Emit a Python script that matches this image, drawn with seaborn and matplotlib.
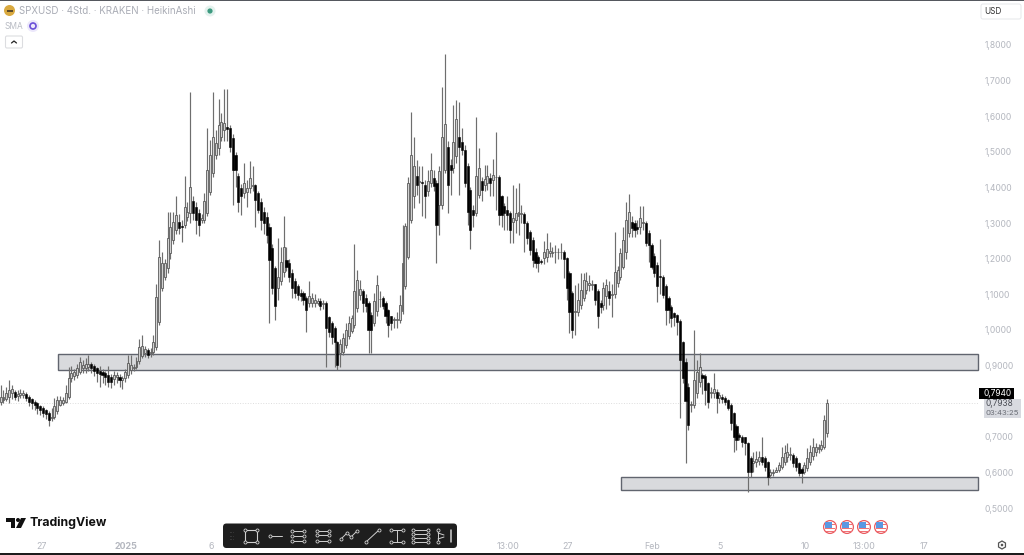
import matplotlib
matplotlib.use("Agg")
import matplotlib.pyplot as plt
from matplotlib.patches import Circle, FancyBboxPatch, Polygon, Rectangle, RegularPolygon
import numpy as np
import seaborn as sns

# ---- candles (left to right) ----
opens = [
    .780, .799, .802, .805, .813, .822, .827, .815, .818, .818, .820, .813, .805, .799, .794, .785, .780, .774, .768, .752,
    .755, .771, .789, .794, .799, .811, .864, .871, .874, .883, .892, .892, .897, .905, .899, .892, .886, .883, .878, .874,
    .867, .862, .867, .869, .858, .864, .874, .888, .892, .895, .914, .927, .936, .944, .935, .939,
    .953, 1.023, 1.117, 1.150, 1.173, 1.215, 1.253, 1.281, 1.304, 1.293,
    1.295, 1.318, 1.328, 1.363, 1.346, 1.328, 1.309, 1.309, 1.328, 1.388,
    1.440, 1.491, 1.510, 1.543, 1.562, 1.571, 1.566, 1.538, 1.491, 1.431,
    1.398, 1.384, 1.388, 1.398, 1.405, 1.407, 1.384, 1.360, 1.332, 1.318,
    1.290, 1.229, 1.173, 1.117, 1.136, 1.164, 1.197, 1.187, 1.159, 1.136,
    1.122, 1.103, 1.103, 1.089, 1.075, 1.075, 1.075, 1.075, 1.080, 1.074,
    1.075, 1.037, 1.019, 1.005, .967,
    .936, .939, .958, .982, .996, 1.014, 1.061, 1.098, 1.108, 1.089,
    1.075, 1.042, 1.019, 1.052, 1.086, 1.089, 1.075, 1.056, 1.038, 1.029,
    1.029, 1.028, 1.052, 1.122, 1.206, 1.309, 1.375, 1.431, 1.416, 1.416,
    1.407, 1.389, 1.412, 1.426, 1.412, 1.351, 1.351, 1.450, 1.515, 1.464,
    1.454, 1.489, 1.541, 1.529, 1.506, 1.459, 1.393, 1.337, 1.328, 1.379,
    1.417, 1.407, 1.412, 1.426, 1.421, 1.428, 1.429, 1.375, 1.348, 1.337,
    1.328, 1.304, 1.309, 1.319, 1.325, 1.326, 1.300, 1.276, 1.253, 1.220,
    1.204, 1.194, 1.201, 1.206,
    1.217, 1.217, 1.218, 1.218, 1.219, 1.218, 1.201, 1.159, 1.105, 1.051,
    1.051, 1.07, 1.089, 1.112, 1.126, 1.127, 1.128, 1.108, 1.075, 1.07,
    1.094, 1.108, 1.099, 1.101, 1.131, 1.15, 1.178, 1.22, 1.271, 1.304,
    1.299, 1.29, 1.288, 1.30, 1.301, 1.271, 1.239, 1.208, 1.182, 1.152,
    1.15, 1.123, 1.089, 1.063, 1.047, 1.042, 1.026, .967,
    .911, .841, .789, .789, .822, .855, .874, .871, .85, .822,
    .822, .827, .808, .813, .81, .803, .789, .766, .73, .705,
    .70, .70, .682, .64, .626, .63, .633, .644, .64, .63,
    .593, .597, .602, .607, .616, .63, .644, .65, .65, .64,
    .626, .609, .60, .612, .63, .646, .658, .665, .665, .672,
    .71,
]
closes = [
    .799, .813, .813, .822, .832, .833, .813, .820, .822, .824, .808, .799, .794, .790, .780, .774, .768, .764, .747, .755,
    .785, .804, .804, .804, .822, .864, .878, .883, .892, .911, .902, .905, .905, .892, .886, .878, .877, .874, .869, .855,
    .855, .874, .874, .858, .864, .883, .908, .902, .897, .914, .953, .955, .946, .930, .939, .967,
    1.093, 1.206, 1.187, 1.187, 1.257, 1.290, 1.304, 1.323, 1.285, 1.290,
    1.346, 1.332, 1.402, 1.328, 1.309, 1.295, 1.313, 1.363, 1.449, 1.491,
    1.543, 1.524, 1.576, 1.585, 1.580, 1.563, 1.515, 1.449, 1.449, 1.360,
    1.376, 1.412, 1.398, 1.426, 1.407, 1.365, 1.337, 1.309, 1.300, 1.267,
    1.197, 1.117, 1.066, 1.150, 1.192, 1.234, 1.178, 1.150, 1.117, 1.103,
    1.098, 1.094, 1.084, 1.056, 1.094, 1.089, 1.084, 1.080, 1.066, 1.075,
    1.005, .995, .981, .967, .902,
    .960, .977, 1.0, 1.019, 1.033, 1.108, 1.141, 1.114, 1.075, 1.066,
    1.0, 1.0, 1.08, 1.127, 1.088, 1.066, 1.038, 1.014, 1.019, 1.031,
    1.032, 1.070, 1.189, 1.291, 1.412, 1.492, 1.459, 1.407, 1.418, 1.412,
    1.375, 1.417, 1.450, 1.403, 1.295, 1.445, 1.543, 1.579, 1.407, 1.450,
    1.529, 1.592, 1.515, 1.506, 1.412, 1.332, 1.281, 1.323, 1.431, 1.454,
    1.393, 1.423, 1.431, 1.412, 1.435, 1.430, 1.323, 1.323, 1.328, 1.323,
    1.281, 1.314, 1.328, 1.330, 1.327, 1.300, 1.258, 1.225, 1.197, 1.187,
    1.187, 1.192, 1.220, 1.227,
    1.221, 1.220, 1.220, 1.220, 1.220, 1.198, 1.117, 1.051, 1.0, 1.054,
    1.084, 1.112, 1.14, 1.136, 1.133, 1.129, 1.084, 1.039, 1.065, 1.117,
    1.126, 1.089, 1.101, 1.164, 1.168, 1.215, 1.253, 1.309, 1.332, 1.285,
    1.281, 1.283, 1.313, 1.302, 1.243, 1.239, 1.178, 1.159, 1.122, 1.148,
    1.098, 1.056, 1.056, 1.033, 1.037, 1.023, .915, .864,
    .80, .733, .791, .86, .883, .895, .864, .832, .799, .827,
    .833, .808, .817, .805, .799, .78, .738, .70, .691, .70,
    .686, .682, .602, .602, .633, .637, .644, .63, .616, .588,
    .602, .602, .607, .621, .644, .654, .658, .652, .626, .616,
    .598, .598, .621, .64, .658, .672, .67, .67, .677, .747,
    .7938,
]
lows = [
    .765, .790, .795, .800, .795, .805, .802, .800, .810, .810, .800, .785, .778, .775, .765, .760, .755, .750, .730, .745,
    .750, .765, .785, .790, .795, .805, .855, .860, .865, .875, .880, .880, .885, .880, .870, .855, .840, .850, .845, .840,
    .838, .845, .850, .840, .835, .855, .865, .875, .885, .890, .905, .920, .925, .920, .925, .930,
    .945, 1.015, 1.11, 1.14, 1.16, 1.20, 1.24, 1.27, 1.27, 1.246,
    1.285, 1.305, 1.30, 1.31, 1.27, 1.265, 1.30, 1.30, 1.32, 1.38,
    1.43, 1.48, 1.49, 1.53, 1.53, 1.53, 1.50, 1.351, 1.40, 1.332,
    1.323, 1.37, 1.346, 1.385, 1.39, 1.29, 1.328, 1.281, 1.27, 1.243,
    1.019, 1.10, 1.028, 1.084, 1.125, 1.15, 1.165, 1.135, 1.09, 1.09,
    1.085, 1.08, 1.07, .995, 1.065, 1.065, 1.065, 1.07, 1.055, 1.06,
    .897, .98, .96, .897, .888,
    .895, .93, .95, .975, .99, 1.005, 1.05, 1.085, 1.05, 1.05,
    .935, .935, 1.01, 1.04, 1.065, 1.06, 1.02, .981, 1.0, 1.005,
    1.005, 1.02, 1.045, 1.115, 1.20, 1.30, 1.342, 1.38, 1.356, 1.319,
    1.314, 1.375, 1.40, 1.39, 1.187, 1.267, 1.34, 1.44, 1.328, 1.379,
    1.44, 1.47, 1.379, 1.49, 1.40, 1.295, 1.227, 1.29, 1.32, 1.37,
    1.361, 1.39, 1.393, 1.375, 1.375, 1.337, 1.295, 1.29, 1.281, 1.281,
    1.244, 1.244, 1.272, 1.267, 1.30, 1.22, 1.24, 1.21, 1.178, 1.173,
    1.164, 1.185, 1.185, 1.19,
    1.206, 1.205, 1.187, 1.20, 1.20, 1.145, 1.084, .99, .976, .986,
    1.04, 1.06, 1.08, 1.10, 1.11, 1.112, 1.07, 1.005, 1.047, 1.056,
    1.06, 1.07, 1.037, 1.09, 1.12, 1.14, 1.17, 1.20, 1.26, 1.26,
    1.26, 1.27, 1.27, 1.28, 1.235, 1.192, 1.17, 1.15, 1.079, 1.10,
    1.09, 1.014, 1.019, 1.009, 1.01, .986, .752, .85,
    .626, .72, .77, .78, .81, .84, .82, .789, .78, .81,
    .81, .766, .795, .795, .79, .775, .72, .658, .663, .69,
    .67, .65, .546, .588, .602, .615, .62, .62, .605, .565,
    .585, .59, .60, .60, .61, .62, .63, .635, .615, .605,
    .59, .569, .595, .605, .62, .635, .645, .655, .66, .665,
    .70,
]
highs = [
    .825, .845, .830, .840, .858, .845, .830, .830, .835, .830, .825, .818, .808, .803, .798, .790, .785, .778, .772, .780,
    .810, .815, .815, .812, .845, .895, .900, .890, .905, .925, .915, .922, .930, .910, .905, .897, .900, .890, .885, .900,
    .875, .885, .882, .875, .870, .890, .930, .930, .905, .925, .975, .985, .955, .950, .950, .985,
    1.13, 1.253, 1.22, 1.20, 1.332, 1.332, 1.332, 1.377, 1.325, 1.31,
    1.431, 1.36, 1.669, 1.375, 1.36, 1.34, 1.325, 1.385, 1.566, 1.534,
    1.669, 1.56, 1.648, 1.61, 1.676, 1.676, 1.575, 1.55, 1.50, 1.44,
    1.41, 1.468, 1.42, 1.475, 1.46, 1.41, 1.39, 1.37, 1.345, 1.33,
    1.30, 1.24, 1.18, 1.257, 1.234, 1.32, 1.234, 1.20, 1.17, 1.145,
    1.13, 1.115, 1.11, 1.095, 1.136, 1.105, 1.10, 1.09, 1.09, 1.085,
    1.08, 1.04, 1.025, 1.01, .97,
    .975, .99, 1.019, 1.04, 1.042, 1.241, 1.169, 1.141, 1.115, 1.10,
    1.08, 1.05, 1.103, 1.155, 1.11, 1.095, 1.08, 1.06, 1.04, 1.035,
    1.05, 1.098, 1.295, 1.30, 1.43, 1.613, 1.543, 1.478, 1.459, 1.459,
    1.42, 1.45, 1.498, 1.45, 1.42, 1.46, 1.683, 1.775, 1.53, 1.48,
    1.632, 1.646, 1.639, 1.567, 1.52, 1.47, 1.40, 1.35, 1.599, 1.51,
    1.43, 1.464, 1.464, 1.44, 1.479, 1.557, 1.435, 1.38, 1.355, 1.375,
    1.335, 1.408, 1.398, 1.412, 1.351, 1.33, 1.305, 1.28, 1.26, 1.23,
    1.21, 1.20, 1.25, 1.272,
    1.248, 1.234, 1.239, 1.229, 1.243, 1.225, 1.205, 1.165, 1.11, 1.126,
    1.131, 1.159, 1.159, 1.164, 1.154, 1.14, 1.13, 1.115, 1.085, 1.135,
    1.142, 1.136, 1.13, 1.276, 1.18, 1.231, 1.288, 1.36, 1.382, 1.32,
    1.31, 1.31, 1.348, 1.348, 1.305, 1.28, 1.245, 1.215, 1.19, 1.254,
    1.155, 1.13, 1.095, 1.07, 1.05, 1.045, 1.03, .97,
    .92, .85, .80, 1.0, .916, .936, .88, .875, .855, .84,
    .878, .835, .827, .82, .815, .806, .795, .77, .735, .71,
    .705, .70, .685, .645, .658, .66, .66, .699, .645, .632,
    .61, .61, .615, .63, .672, .677, .682, .672, .655, .645,
    .63, .615, .63, .668, .677, .696, .682, .68, .69, .76,
    .805,
]

price_ticks = [1.8, 1.7, 1.6, 1.5, 1.4, 1.3, 1.2, 1.1, 1.0, 0.9, 0.8, 0.7, 0.6, 0.5]
price_labels = ["1,8000", "1,7000", "1,6000", "1,5000", "1,4000", "1,3000", "1,2000",
                "1,1000", "1,0000", "0,9000", "0,8000", "0,7000", "0,6000", "0,5000"]
date_labels = ["27", "2025", "6", "13:00", "27", "Feb", "5", "10", "13:00", "17"]
date_px = [41, 126, 211, 508, 567, 652, 720, 805, 864, 924]

upper_zone = (0.8876, 0.9326)
lower_zone = (0.5506, 0.587)
last_price = 0.7938

W, H = 1024, 555
STEP = 2.83
LAST_PX = 827

sns.set_theme(style="white")
plt.rcParams["font.family"] = ["Inter", "DejaVu Sans"]

n = len(opens)
xs = np.arange(n)


def px2i(px):
    # pixel column -> candle index
    return n - 1 - (LAST_PX - px) / STEP


fig = plt.figure(figsize=(W / 100, H / 100), dpi=100)
ax = fig.add_axes([0, 0, 1, 1])
ax.set_xlim(px2i(0), px2i(W))
# 1.8 sits on row 45 and 0.5 on row 508
per_px = (1.8 - 0.5) / (508 - 45)
ax.set_ylim(0.5 - (H - 508) * per_px, 1.8 + 45 * per_px)

o = np.array(opens)
c = np.array(closes)
up = c >= o

# zones under the candles
for lo, hi, left in [(upper_zone[0], upper_zone[1], 58), (lower_zone[0], lower_zone[1], 621)]:
    ax.add_patch(Rectangle((px2i(left), lo), px2i(978) - px2i(left), hi - lo, facecolor="#d9dadd",
                           edgecolor="#61656f", linewidth=1.0, zorder=1))

sns.lineplot(x=[px2i(0), px2i(978)], y=[last_price, last_price], ax=ax, color="#dddddd",
             linewidth=0.7, linestyle=":", zorder=1)

ax.vlines(xs, lows, highs, color="#6e6e6e", linewidth=0.85, zorder=2)
ax.bar(xs[up], (c - o)[up], bottom=o[up], width=0.68, facecolor="#d2d2d2", edgecolor="#5a5a5a",
       linewidth=0.6, zorder=3)
ax.bar(xs[~up], (o - c)[~up], bottom=c[~up], width=0.75, facecolor="#000000", edgecolor="#000000",
       linewidth=0.4, zorder=3)

ax.yaxis.tick_right()
ax.set_yticks(price_ticks, price_labels)
ax.tick_params(axis="y", length=0, pad=-28.5, labelsize=6.2, labelcolor="#b4b7bf")
ax.set_xticks([px2i(p) for p in date_px], date_labels)
ax.tick_params(axis="x", length=0, pad=-9.5, labelsize=6.4, labelcolor="#b4b7bf")
ax.get_xticklabels()[1].set_fontweight("bold")
sns.despine(ax=ax, left=True, bottom=True, top=True, right=True)
ax.grid(False)

# ---- chart furniture, in pixel coordinates ----
ui = fig.add_axes([0, 0, 1, 1], facecolor="none")
ui.set_xlim(0, W)
ui.set_ylim(H, 0)
ui.axis("off")

ui.add_patch(Rectangle((0, 0), W, 1.2, color="#55585e", lw=0))
ui.add_patch(Rectangle((0, 553.2), W, 2, color="#1c1c1c", lw=0))

# header
ui.add_patch(Circle((9.5, 10.5), 5.5, color="#d9a93f", lw=0))
ui.add_patch(Rectangle((7, 9.5), 6, 2, color="#5b4a2a", lw=0))
ui.text(19, 11, "SPXUSD · 4Std. · KRAKEN · HeikinAshi", fontsize=7.0, color="#a9acb5", va="center")
ui.add_patch(Circle((210, 11), 5.5, color="#e4f2ee", lw=0))
ui.add_patch(Circle((210, 11), 2.6, color="#3d9a80", lw=0))
ui.text(5, 26.5, "SMA", fontsize=6.0, color="#b9bcc4", va="center")
ui.add_patch(Circle((33, 26), 6, color="#ece8fb", lw=0))
ui.add_patch(Circle((33, 26), 3, facecolor="none", edgecolor="#6a4fd8", lw=1.2))
ui.add_patch(FancyBboxPatch((5.5, 36), 17, 12, boxstyle="round,pad=0,rounding_size=1.5",
                            facecolor="white", edgecolor="#dcdde0", lw=0.8))
ui.plot([11.5, 14, 16.5], [43, 41, 43], color="#222222", lw=0.9)

# USD box
ui.add_patch(FancyBboxPatch((981, 4), 40, 15, boxstyle="round,pad=0,rounding_size=2",
                            facecolor="white", edgecolor="#e6e7ea", lw=0.7))
ui.text(984, 11.5, "USD", fontsize=5.9, color="#333333", va="center")

# price tags
ui.add_patch(Rectangle((979, 388), 35, 11, color="#000000", lw=0))
ui.text(984, 393.5, "0,7940", fontsize=6.0, color="white", va="center")
ui.add_patch(Rectangle((984, 399), 37, 19, color="#d8dae0", lw=0))
ui.text(985, 404, "0,7938", fontsize=6.0, color="#4a4d55", va="center")
ui.text(985, 413, "03:43:25", fontsize=5.6, color="#6a6d75", va="center")

# logo
ui.add_patch(Polygon([(6, 518), (15, 518), (15, 528), (11, 528), (11, 522), (6, 522)], color="#111111", lw=0))
ui.add_patch(Circle((18, 520), 2, color="#111111", lw=0))
ui.add_patch(Polygon([(21, 518), (26, 518), (21, 528), (16, 528)], color="#111111", lw=0))
ui.text(30, 523, "TradingView", fontsize=8.9, fontweight="bold", color="#111111", va="center")

# drawing toolbar
ui.add_patch(FancyBboxPatch((223, 523.5), 234, 24.5, boxstyle="round,pad=0,rounding_size=3.5",
                            facecolor="#1e1e1e", edgecolor="none", zorder=5))
wht = dict(color="#d0d0d0", lw=0.7, zorder=6, marker="o", ms=2.2, mfc="#1e1e1e", mew=0.6)
for yy in [532, 535.5, 539]:
    ui.plot([230, 233], [yy, yy], ":", color="#555555", lw=0.7, zorder=6)
ui.add_patch(Rectangle((245, 530), 12, 12, facecolor="none", edgecolor="#d0d0d0", lw=0.8, zorder=6))
ui.plot([245, 257, 245, 257], [530, 530, 542, 542], ls="none", **{k: v for k, v in wht.items() if k != "lw"})
ui.plot([270, 282], [536, 536], color="#d0d0d0", lw=0.7, zorder=6)
ui.plot([270], [536], **wht)
ui.plot([292, 304], [531, 531], **wht)
ui.plot([292, 304], [536, 536], **wht)
ui.plot([292, 304], [541, 541], **wht)
ui.plot([317, 329], [531, 531], **wht)
ui.plot([317, 329], [535, 535], **wht)
ui.plot([317, 329], [541, 541], **wht)
ui.plot([341, 347, 351, 357], [539, 533, 537, 531], **wht)
ui.plot([366, 379], [542, 530], **wht)
ui.plot([391, 403], [530, 530], **wht)
ui.plot([391, 403], [542, 542], **wht)
ui.plot([397, 397], [530, 542], color="#d0d0d0", lw=0.7, zorder=6)
for yy in [530, 534, 538, 542]:
    ui.plot([413, 428], [yy, yy], **wht)
ui.plot([438, 438], [530, 542], **wht)
ui.plot([438, 444], [533, 535], color="#d0d0d0", lw=0.7, zorder=6)
ui.plot([438, 444], [539, 537], color="#d0d0d0", lw=0.7, zorder=6)
ui.plot([451, 451], [530, 542], color="#d0d0d0", lw=1.1, zorder=6)

# news flags
for fx in [830, 847, 864, 881]:
    ui.add_patch(Circle((fx, 527), 6.4, facecolor="white", edgecolor="#ea5a5f", lw=0.9, zorder=5))
    ui.add_patch(Rectangle((fx - 5, 524), 10, 1.3, color="#ef7175", lw=0, zorder=6))
    ui.add_patch(Rectangle((fx - 5, 527.5), 10, 1.3, color="#ef7175", lw=0, zorder=6))
    ui.add_patch(Rectangle((fx - 4.5, 530.5), 9, 1.3, color="#ef7175", lw=0, zorder=6))
    ui.add_patch(Rectangle((fx - 5, 522), 6.5, 6, color="#5a98e2", lw=0, zorder=7))

# settings gear
ui.add_patch(RegularPolygon((1002, 545), 6, radius=4.0, facecolor="none", edgecolor="#555555", lw=0.9))
ui.add_patch(Circle((1002, 545), 1.3, color="#555555", lw=0))

plt.savefig("out.png", dpi=100)
